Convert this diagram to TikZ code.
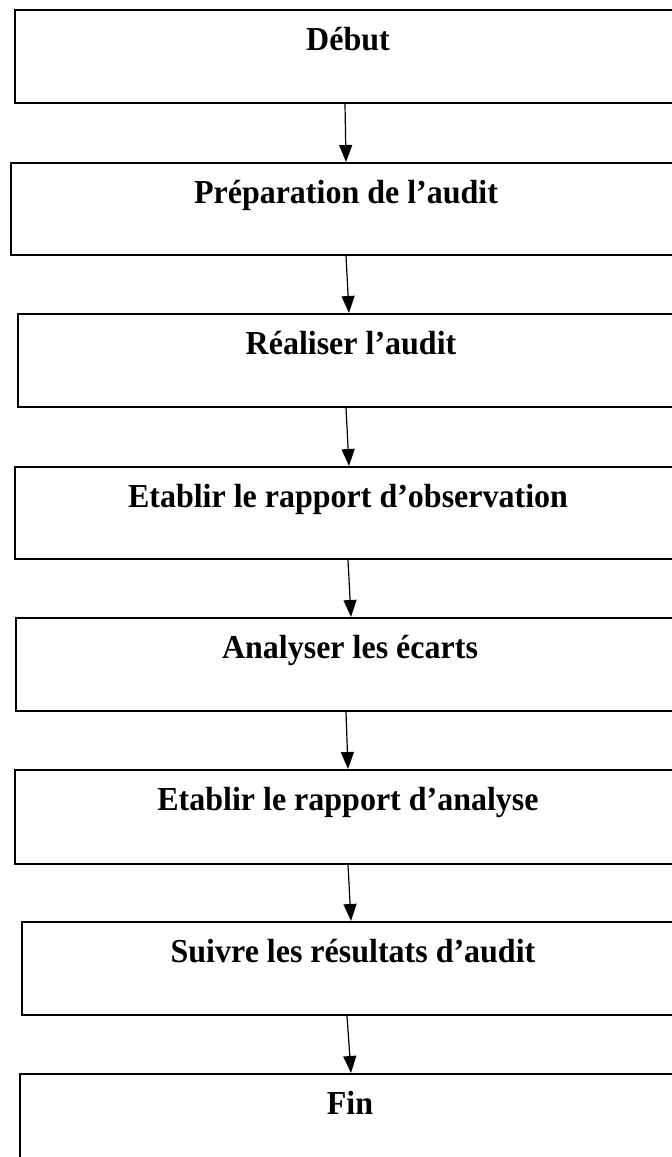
\documentclass[tikz,border=0pt]{standalone}
\usepackage{fontspec}
\setmainfont{Liberation Serif}
\usetikzlibrary{arrows.meta}

\tikzset{
  stepbox/.style={draw=black, line width=1.8pt, rectangle, inner sep=0pt},
  steptext/.style={anchor=base, inner sep=0pt, xscale=0.955,
    font=\fontsize{33.5}{40}\selectfont\bfseries},
  flow/.style={draw=black, line width=1.2pt,
    -{Triangle[length=17pt,width=13pt]}}
}

\begin{document}
\begin{tikzpicture}[x=1pt, y=-1pt]
\useasboundingbox (0,0) rectangle (672,1157);
\fill[white] (0,0) rectangle (672,1157);
\clip (0,0) rectangle (672,1157);

% process steps: left, top, bottom (boxes run past the right edge)
\node[stepbox, minimum width=672pt, minimum height=93pt, anchor=north west] (b1) at (14,9) {};
\node[stepbox, minimum width=676pt, minimum height=92pt, anchor=north west] (b2) at (10,162) {};
\node[stepbox, minimum width=669pt, minimum height=93pt, anchor=north west] (b3) at (17,313) {};
\node[stepbox, minimum width=672pt, minimum height=92pt, anchor=north west] (b4) at (14,466) {};
\node[stepbox, minimum width=671pt, minimum height=93pt, anchor=north west] (b5) at (15,617) {};
\node[stepbox, minimum width=672pt, minimum height=94pt, anchor=north west] (b6) at (14,769) {};
\node[stepbox, minimum width=665pt, minimum height=93pt, anchor=north west] (b7) at (21,921) {};
\node[stepbox, minimum width=667pt, minimum height=110pt, anchor=north west] (b8) at (19,1073) {};

% step captions
\node[steptext] (t1) at ([yshift=-41.5pt]b1.north -| 348,0) {Début};
\node[steptext] (t2) at ([yshift=-41.5pt]b2.north -| 346,0) {Préparation de l’audit};
\node[steptext] (t3) at ([yshift=-41.5pt]b3.north -| 351,0) {Réaliser l’audit};
\node[steptext] (t4) at ([yshift=-41.5pt]b4.north -| 348,0) {Etablir le rapport d’observation};
\node[steptext] (t5) at ([yshift=-41.5pt]b5.north -| 350,0) {Analyser les écarts};
\node[steptext] (t6) at ([yshift=-41.5pt]b6.north -| 348,0) {Etablir le rapport d’analyse};
\node[steptext] (t7) at ([yshift=-41.5pt]b7.north -| 353,0) {Suivre les résultats d’audit};
\node[steptext] (t8) at ([yshift=-41.5pt]b8.north -| 350,0) {Fin};

% connectors
\draw[flow] (b1.south -| 345,0) -- (b2.north -| 346,0);
\draw[flow] (b2.south -| 346,0) -- (b3.north -| 349,0);
\draw[flow] (b3.south -| 346,0) -- (b4.north -| 349,0);
\draw[flow] (b4.south -| 348,0) -- (b5.north -| 351,0);
\draw[flow] (b5.south -| 346,0) -- (b6.north -| 348,0);
\draw[flow] (b6.south -| 348,0) -- (b7.north -| 351,0);
\draw[flow] (b7.south -| 347,0) -- (b8.north -| 351,0);
\end{tikzpicture}
\end{document}
